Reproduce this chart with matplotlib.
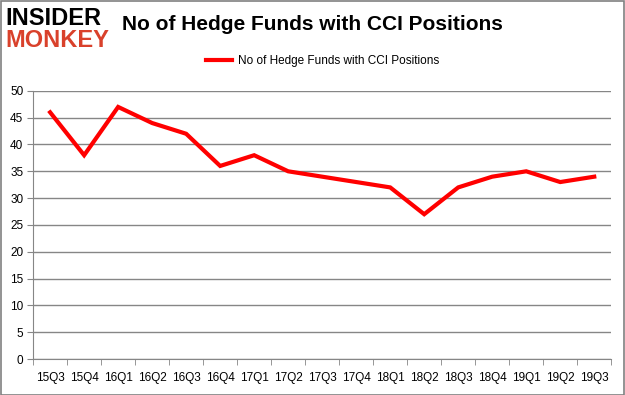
import matplotlib.pyplot as plt
import numpy as np

plt.rcParams.update({
    "font.family": ["Liberation Sans", "DejaVu Sans"],
    "font.size": 8.5,
})

quarters = ['15Q3', '15Q4', '16Q1', '16Q2', '16Q3', '16Q4', '17Q1', '17Q2', '17Q3',
            '17Q4', '18Q1', '18Q2', '18Q3', '18Q4', '19Q1', '19Q2', '19Q3']
funds = [46, 38, 47, 44, 42, 36, 38, 35, 34, 33, 32, 27, 32, 34, 35, 33, 34]
y_ticks = [0, 5, 10, 15, 20, 25, 30, 35, 40, 45, 50]

grid_col = '#868686'

fig = plt.figure(figsize=(6.25, 3.95), dpi=100)
ax = fig.add_axes([0.053, 0.091, 0.925, 0.679])

x = np.arange(len(quarters))
ax.plot(x, funds, color='#ff0000', linewidth=3, solid_joinstyle='miter',
        label='No of Hedge Funds with CCI Positions')

ax.set_xlim(-0.5, len(quarters) - 0.5)
ax.set_ylim(0, 50)
ax.set_yticks(y_ticks)
ax.yaxis.grid(True, color=grid_col, linewidth=1)
ax.set_axisbelow(True)

# category labels centred, tick marks on boundaries
ax.set_xticks(x)
ax.set_xticklabels(quarters)
ax.set_xticks(np.arange(-0.5, len(quarters)), minor=True)
ax.tick_params(axis='x', which='major', length=0, pad=9)
ax.tick_params(axis='x', which='minor', length=4, color=grid_col)
ax.tick_params(axis='y', length=4, color=grid_col, pad=3)

for s in ['top', 'right']:
    ax.spines[s].set_visible(False)
for s in ['left', 'bottom']:
    ax.spines[s].set_color(grid_col)

ax.legend(loc='center', bbox_to_anchor=(0.5, 1.112), frameon=False,
          handlelength=2.2, handletextpad=0.5, fontsize=8.5)

fig.text(0.5, 0.937, 'No of Hedge Funds with CCI Positions', ha='center', va='center',
         fontsize=15, fontweight='bold')

# logo
fig.text(0.008, 0.952, 'INSIDER', ha='left', va='center', fontsize=17,
         fontweight='bold', color='black')
fig.text(0.008, 0.897, 'MONKEY', ha='left', va='center', fontsize=17,
         fontweight='bold', color='#d9412b')

# outer frame
fig.patches.append(plt.Rectangle((0.001, 0.001), 0.997, 0.997, transform=fig.transFigure,
                                 fill=False, edgecolor='#808080', linewidth=1.2))

plt.savefig('out.png', dpi=100)
